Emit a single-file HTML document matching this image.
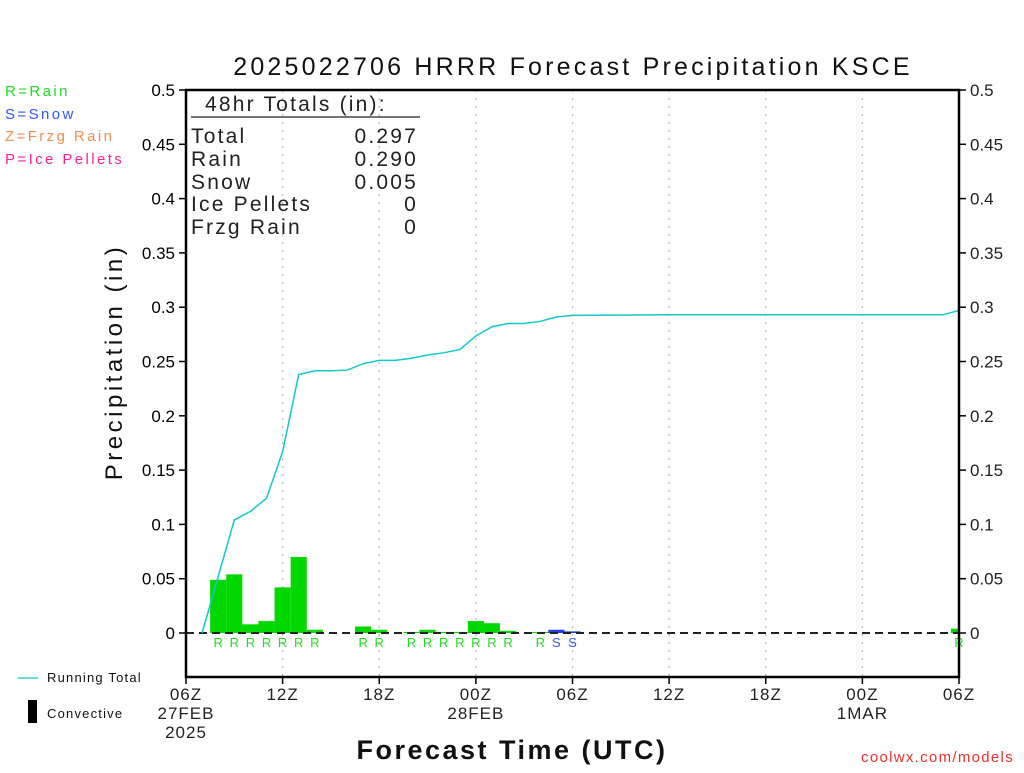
<!DOCTYPE html>
<html><head><meta charset="utf-8"><style>
body{margin:0;background:#fff;}
svg text{font-family:"Liberation Sans",sans-serif;}
</style></head><body>
<svg id="chart" width="1024" height="768" viewBox="0 0 1024 768">
<defs><clipPath id="pc"><rect x="186" y="90" width="773" height="587"/></clipPath></defs>
<text x="573" y="75" text-anchor="middle" font-size="25" fill="#111" letter-spacing="3.2">2025022706 HRRR Forecast Precipitation KSCE</text>
<g id="legend-left" font-size="15" letter-spacing="2.4">
<text x="5" y="96" fill="#22dd22">R=Rain</text>
<text x="5" y="119" fill="#3355ff">S=Snow</text>
<text x="5" y="141" fill="#f08f50">Z=Frzg Rain</text>
<text x="5" y="164" fill="#ff2299">P=Ice Pellets</text>
</g>
<g id="grid"></g>
<g id="yaxes"></g>
<g id="xaxis"></g>
<g clip-path="url(#pc)"><g id="bars"></g></g>
<line x1="186" y1="633" x2="959" y2="633" stroke="#222" stroke-width="2" stroke-dasharray="8,5"/>
<path id="runline" fill="none" stroke="#11c8cc" stroke-width="1.5"/>
<g id="barlabels" font-size="13"></g>
<rect x="186" y="90" width="773" height="587" fill="none" stroke="#000" stroke-width="2.5"/>
<g fill="#222" font-size="21" letter-spacing="2.2">
<text x="205" y="111">48hr Totals (in):</text>
<line x1="191" y1="117" x2="420" y2="117" stroke="#222" stroke-width="1.2"/>
<text x="191" y="143">Total</text><text x="418" y="143" text-anchor="end">0.297</text>
<text x="191" y="166">Rain</text><text x="418" y="166" text-anchor="end">0.290</text>
<text x="191" y="189">Snow</text><text x="418" y="189" text-anchor="end">0.005</text>
<text x="191" y="211">Ice Pellets</text><text x="418" y="211" text-anchor="end">0</text>
<text x="191" y="234">Frzg Rain</text><text x="418" y="234" text-anchor="end">0</text>
</g>
<text transform="translate(122,362) rotate(-90)" text-anchor="middle" font-size="24" fill="#111" letter-spacing="3.5">Precipitation (in)</text>
<text x="512" y="759" text-anchor="middle" font-size="27" fill="#111" letter-spacing="2.5" font-weight="bold">Forecast Time (UTC)</text>
<text x="1014" y="762" text-anchor="end" font-size="15" fill="#e83030" letter-spacing="1.3">coolwx.com/models</text>
<line x1="18" y1="678" x2="38" y2="678" stroke="#11c8cc" stroke-width="1.2"/>
<text x="47" y="682" font-size="13" fill="#111" letter-spacing="1.2">Running Total</text>
<rect x="28" y="700" width="9" height="23" fill="#000"/>
<text x="47" y="718" font-size="13" fill="#111" letter-spacing="1.2">Convective</text>
</svg>
<script>
const barHours=[2,3,4,5,6,7,8,11,12,14,15,16,17,18,19,20,22,23,24,48];
const barValues=[0.049,0.054,0.008,0.011,0.042,0.070,0.003,0.006,0.003,0.001,0.003,0.001,0.001,0.011,0.009,0.002,0.001,0.003,0.0015,0.004];
const barTypes=["R","R","R","R","R","R","R","R","R","R","R","R","R","R","R","R","R","S","S","R"];
const runHours=[1,3,4,5,6,7,8,9,10,11,12,13,14,15,16,17,18,19,20,21,22,23,24,30,40,47,48];
const runValues=[0,0.104,0.112,0.124,0.167,0.238,0.2415,0.2415,0.242,0.248,0.251,0.251,0.253,0.256,0.258,0.261,0.2735,0.282,0.285,0.285,0.287,0.291,0.2925,0.293,0.293,0.293,0.297];
const yTicks=[0,0.05,0.1,0.15,0.2,0.25,0.3,0.35,0.4,0.45,0.5];
const yTickLabels=["0","0.05","0.1","0.15","0.2","0.25","0.3","0.35","0.4","0.45","0.5"];
const xTickHours=[0,6,12,18,24,30,36,42,48];
const xTickLabels=[["06Z","27FEB","2025"],["12Z"],["18Z"],["00Z","28FEB"],["06Z"],["12Z"],["18Z"],["00Z","1MAR"],["06Z"]];
const NS="http://www.w3.org/2000/svg";
const X=h=>186+h*773/48, Y=v=>633-v*1086;
function mk(tag,attrs,parent){const e=document.createElementNS(NS,tag);for(const k in attrs)e.setAttribute(k,attrs[k]);parent.appendChild(e);return e;}
const grid=document.getElementById('grid'),ya=document.getElementById('yaxes'),xa=document.getElementById('xaxis');
xTickHours.forEach((h,i)=>{
 if(i>0&&i<xTickHours.length-1){const g=mk('line',{x1:X(h),x2:X(h),y1:90,y2:677,stroke:'#bbb','stroke-width':1.3,'stroke-dasharray':'2,6'},grid);
 
 }
 const t=mk('line',{x1:X(h),x2:X(h),y1:677,y2:684,stroke:'#000','stroke-width':1.5},xa);
 
 
 xTickLabels[i].forEach((s,j)=>{const tx=mk('text',{x:X(h),y:700+j*19,'text-anchor':'middle','font-size':17,fill:'#222','letter-spacing':1},xa);tx.textContent=s;
 
 });
});
yTicks.forEach((v,i)=>{
 const l=mk('line',{x1:179,x2:186,y1:Y(v),y2:Y(v),stroke:'#000','stroke-width':1.5},ya);
 
 
 const r=mk('line',{x1:959,x2:966,y1:Y(v),y2:Y(v),stroke:'#000','stroke-width':1.5},ya);
 
 
 const t=mk('text',{x:175,y:Y(v)+6,'text-anchor':'end','font-size':17,fill:'#000'},ya);t.textContent=yTickLabels[i];
 
 
 const t2=mk('text',{x:970,y:Y(v)+6,'font-size':17,fill:'#222'},ya);t2.textContent=yTickLabels[i];
 
 
});
const bars=document.getElementById('bars'),bl=document.getElementById('barlabels');
barHours.forEach((h,i)=>{
 const col=barTypes[i]==="S"?'#2040f0':'#00d800';
 const b=mk('rect',{x:X(h-0.5),y:Y(barValues[i]),width:773/48,height:Y(0)-Y(barValues[i]),fill:col},bars);
 
 
 const t=mk('text',{x:X(h),y:647,'text-anchor':'middle',fill:barTypes[i]==="S"?'#3355ff':'#22dd22'},bl);t.textContent=barTypes[i];
 
 
});
document.getElementById('runline').setAttribute('d',runHours.map((h,i)=>(i?'L':'M')+X(h)+','+Y(runValues[i])).join(''));
</script>
</body></html>
